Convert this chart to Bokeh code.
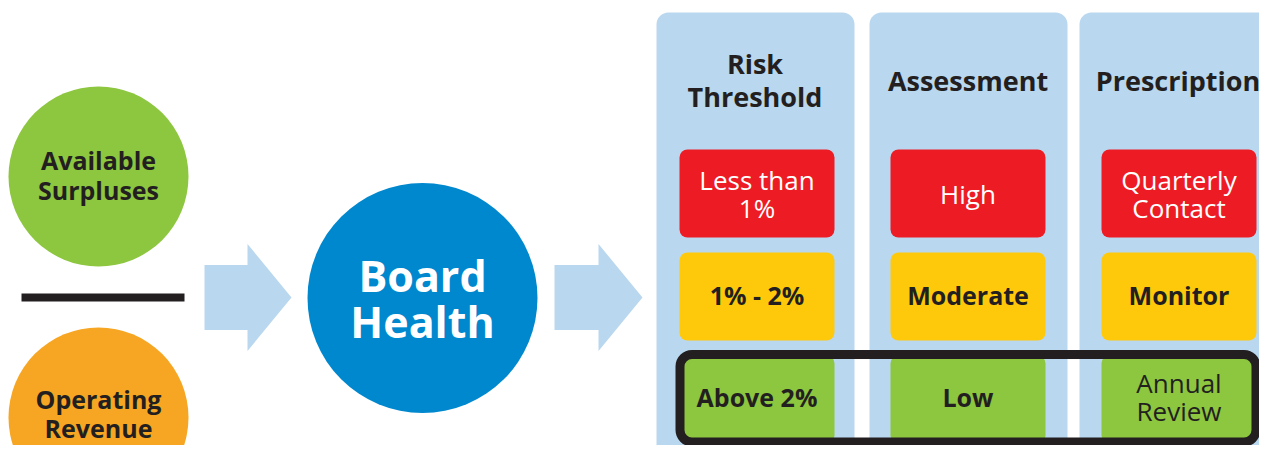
from bokeh.plotting import figure
from bokeh.models import Range1d
from bokeh.core.properties import value
from bokeh.embed import file_html
from bokeh.resources import INLINE

# ---- content ----
input_labels = ["Available\nSurpluses", "Operating\nRevenue"]
input_colors = ["#8DC63F", "#F6A623"]
center_label = "Board\nHealth"
headers = ["Risk\nThreshold", "Assessment", "Prescription"]
cells = [
    ["Less than\n1%", "1% - 2%", "Above 2%"],
    ["High", "Moderate", "Low"],
    ["Quarterly\nContact", "Monitor", "Annual\nReview"],
]
cell_bold = [
    [False, True, True],
    [False, True, True],
    [False, True, False],
]
row_colors = ["#ED1C24", "#FFC90B", "#8DC63F"]
row_text_colors = ["#FFFFFF", "#231F20", "#231F20"]

DARK = "#231F20"
LIGHT = "#B9D7EE"
BLUE = "#0088CF"
FONT = value("Open Sans")

W, H = 1259, 445
p = figure(width=W, height=H, output_backend="svg", toolbar_location=None,
           x_range=Range1d(0, W), y_range=Range1d(H, 0),
           min_border=0, outline_line_color=None)
p.axis.visible = False
p.grid.visible = False
p.background_fill_color = "white"
p.border_fill_color = "white"


def draw_lines(x, yc, label, size, color, bold, spacing):
    lines = label.split("\n")
    n = len(lines)
    for i, ln in enumerate(lines):
        y = yc + (i - (n - 1) / 2) * spacing
        p.text(x=[x], y=[y], text=[ln], text_font=FONT,
               text_font_size=f"{size}px", text_color=color,
               text_font_style="bold" if bold else "normal",
               text_align="center", text_baseline="middle")


# ---- left input circles ----
cx_in = 98
cy_in = [176, 417]
text_cy = [174, 412.5]
text_sp = [30, 29]
for lab, col, cy, ty, sp in zip(input_labels, input_colors, cy_in, text_cy, text_sp):
    p.circle(x=[cx_in], y=[cy], radius=90, fill_color=col, line_color=None)
    draw_lines(cx_in, ty, lab, 25, DARK, True, sp)

# divider line
p.segment(x0=[21], y0=[297], x1=[184], y1=[297], line_color=DARK, line_width=8)


# ---- arrows ----
def arrow(x0, xm, x1, yc, half_shaft, half_head):
    xs = [x0, xm, xm, x1, xm, xm, x0]
    ys = [yc - half_shaft, yc - half_shaft, yc - half_head, yc,
          yc + half_head, yc + half_shaft, yc + half_shaft]
    p.patch(xs, ys, fill_color=LIGHT, line_color=None)


arrow(204, 247, 291, 297, 32.5, 53.5)
arrow(554, 598, 642, 297, 32.5, 53.5)

# ---- central circle ----
p.circle(x=[422], y=[297.5], radius=115, fill_color=BLUE, line_color=None)
draw_lines(422, 298, center_label, 43, "#FFFFFF", True, 46)

# ---- panels ----
panel_left = [656, 869, 1079]
panel_w = 198
p.quad(left=panel_left, right=[l + panel_w for l in panel_left],
       top=[12] * 3, bottom=[470] * 3, fill_color=LIGHT, line_color=None,
       border_radius=12)

for i, h in enumerate(headers):
    xc = panel_left[i] + panel_w / 2 - 0.5
    draw_lines(xc, 79.5, h, 27, DARK, True, 33)

box_left = [679, 890, 1101]
box_w = 155
row_top = [149, 252, 355]
row_h = 88
for r in range(3):
    p.quad(left=box_left, right=[l + box_w for l in box_left],
           top=[row_top[r]] * 3, bottom=[row_top[r] + row_h] * 3,
           fill_color=row_colors[r], line_color=None, border_radius=8)

row_shift = [0, -2, -3]
for c in range(3):
    for r in range(3):
        xc = box_left[c] + box_w / 2
        yc = row_top[r] + row_h / 2 + row_shift[r]
        bold = cell_bold[c][r]
        draw_lines(xc, yc, cells[c][r], 25 if bold else 26,
                   row_text_colors[r], bold, 28)

# highlight frame around the bottom row
p.quad(left=[679.5], right=[1255.5], top=[354], bottom=[441.5],
       fill_alpha=0, line_color=DARK, line_width=9, border_radius=12)

open("out.html", "w").write(file_html(p, INLINE))
